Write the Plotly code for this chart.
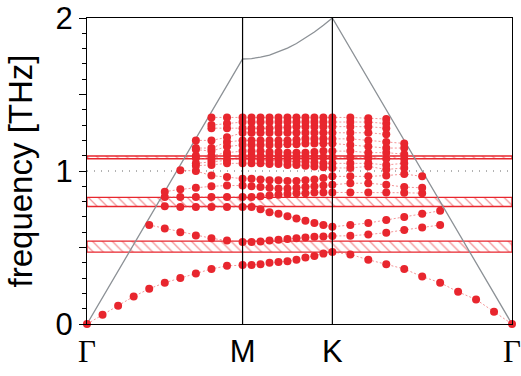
import plotly.graph_objects as go

# ------------------------------------------
# k-path (hexagonal: Γ - M - K - Γ), 10 steps per segment
# ------------------------------------------

K_DIST = [
    0.0, 0.0577, 0.1155, 0.1732, 0.2309, 0.2887, 0.3464, 0.4041, 0.4619, 0.5196, 0.5774,
    0.6107, 0.6440, 0.6774, 0.7107, 0.7440, 0.7774, 0.8107, 0.8440, 0.8774, 0.9107,
    0.9774, 1.0440, 1.1107, 1.1774, 1.2440, 1.3107, 1.3774, 1.4440, 1.5107, 1.5774,
]

TICK_POS = [0.0, 0.5774, 0.9107, 1.5774]
TICK_TXT = [
    '<span style="font-family:Liberation Serif">Γ</span>',
    "M",
    "K",
    '<span style="font-family:Liberation Serif">Γ</span>',
]

# light line
LIGHT_X = [0.0, 0.5774, 0.6107, 0.6440, 0.6774, 0.7107, 0.7440, 0.7774,
           0.8107, 0.8440, 0.8774, 0.9107, 1.5774]
LIGHT_Y = [0.0, 1.732, 1.735, 1.744, 1.758, 1.778, 1.803, 1.833,
           1.868, 1.908, 1.952, 2.0, 0.0]

# band gaps (hatched)
GAP_LO = [0.47, 0.768, 1.08]
GAP_HI = [0.542, 0.828, 1.098]

N = None

# ------------------------------------------
# Bands (Γ-M 11 pts | M-K 10 pts | K-Γ 10 pts), only below light line
# ------------------------------------------

B1 = [0, .06, .12, .18, .23, .27, .30, .33, .36, .38, .386,
      .386, .39, .40, .405, .41, .42, .435, .445, .46, .47,
      .455, .42, .39, .36, .31, .27, .21, .16, .08, 0]
B2 = [N, N, N, N, .647, .625, .60, .578, .56, .545, .536,
      .536, .54, .545, .55, .555, .56, .565, .57, .572, .575,
      .577, .585, .597, .615, .63, .647, N, N, N, N]
B3 = [N, N, N, N, N, .77, .765, .765, .765, .765, .765,
      .765, .75, .73, .72, .705, .69, .675, .66, .647, .635,
      .647, .66, .68, .70, .72, .74, N, N, N, N]
B4 = [N, N, N, N, N, .83, .83, .83, .83, .83, .83,
      .83, .835, .84, .845, .85, .855, .855, .86, .86, .86,
      .86, .86, .86, .858, .855, N, N, N, N, N]
B5 = [N, N, N, N, N, .865, .88, .89, .90, .905, .905,
      .90, .895, .89, .885, .885, .89, .895, .90, .905, .91,
      .92, .92, .91, .895, .89, N, N, N, N, N]
B6 = [N, N, N, N, N, N, 1.005, 1.0, .97, .96, .95,
      .95, .945, .94, .94, .935, .935, .94, .945, .955, .965,
      .965, .965, .97, .98, .965, N, N, N, N, N]
B7 = [N, N, N, N, N, N, N, 1.035, 1.04, 1.05, 1.05,
      1.05, 1.05, 1.045, 1.045, 1.04, 1.04, 1.035, 1.03, 1.025, 1.02,
      1.02, 1.03, 1.01, 1.02, N, N, N, N, N, N]
B8 = [N, N, N, N, N, N, N, 1.05, 1.06, 1.07, 1.08,
      1.08, 1.075, 1.07, 1.07, 1.065, 1.06, 1.06, 1.055, 1.05, 1.05,
      1.05, 1.05, 1.04, 1.05, N, N, N, N, N, N]
B9 = [N, N, N, N, N, N, N, 1.085, 1.08, 1.10, 1.10,
      1.10, 1.10, 1.10, 1.095, 1.095, 1.09, 1.09, 1.09, 1.09, 1.09,
      1.09, 1.085, 1.08, 1.08, N, N, N, N, N, N]
B10 = [N, N, N, N, N, N, N, 1.10, 1.10, 1.12, 1.13,
       1.13, 1.13, 1.125, 1.125, 1.12, 1.12, 1.12, 1.125, 1.13, 1.13,
       1.13, 1.12, 1.12, 1.11, N, N, N, N, N, N]
B11 = [N, N, N, N, N, N, N, 1.14, 1.13, 1.16, 1.17,
       1.17, 1.17, 1.17, 1.17, 1.175, 1.175, 1.18, 1.18, 1.18, 1.18,
       1.17, 1.16, 1.15, 1.15, N, N, N, N, N, N]
B12 = [N, N, N, N, N, N, N, 1.15, 1.15, 1.19, 1.20,
       1.20, 1.20, 1.20, 1.20, 1.20, 1.205, 1.21, 1.21, 1.21, 1.21,
       1.21, 1.20, 1.19, 1.18, N, N, N, N, N, N]
B13 = [N, N, N, N, N, N, N, 1.20, 1.20, 1.22, 1.25,
       1.25, 1.25, 1.25, 1.25, 1.25, 1.25, 1.25, 1.25, 1.25, 1.25,
       1.25, 1.25, 1.24, N, N, N, N, N, N, N]
B14 = [N, N, N, N, N, N, N, N, 1.28, 1.28, 1.28,
       1.28, 1.28, 1.28, 1.285, 1.285, 1.29, 1.29, 1.29, 1.29, 1.29,
       1.29, 1.29, 1.28, N, N, N, N, N, N, N]
B15 = [N, N, N, N, N, N, N, N, 1.30, 1.31, 1.32,
       1.32, 1.32, 1.32, 1.32, 1.32, 1.32, 1.32, 1.32, 1.32, 1.32,
       1.32, 1.32, 1.31, N, N, N, N, N, N, N]
B16 = [N, N, N, N, N, N, N, N, 1.35, 1.35, 1.35,
       1.35, 1.35, 1.35, 1.35, 1.35, 1.35, 1.35, 1.35, 1.35, 1.35,
       1.35, 1.345, 1.34, N, N, N, N, N, N, N]

BANDS = [B1, B2, B3, B4, B5, B6, B7, B8, B9, B10, B11, B12, B13, B14, B15, B16]

RED = "#e8262e"
FONT = "Liberation Sans, Arial, sans-serif"

fig = go.Figure()

# hatched gaps
x_end = K_DIST[-1]
for lo, hi in zip(GAP_LO, GAP_HI):
    fig.add_trace(
        go.Scatter(
            x=[0, x_end, x_end, 0, 0],
            y=[lo, lo, hi, hi, lo],
            mode="lines",
            fill="toself",
            fillcolor="rgba(0,0,0,0)",
            fillpattern=dict(shape="\\", fgcolor=RED,
                             bgcolor="rgba(0,0,0,0)", size=7, solidity=0.18),
            line=dict(color=RED, width=1.3),
            hoverinfo="skip",
            showlegend=False,
        )
    )

# light line
fig.add_trace(
    go.Scatter(
        x=LIGHT_X, y=LIGHT_Y, mode="lines",
        line=dict(color="#8c9196", width=1.3),
        showlegend=False,
    )
)

# bands
for band in BANDS:
    fig.add_trace(
        go.Scatter(
            x=K_DIST, y=band,
            mode="lines+markers",
            line=dict(color="rgba(236,90,95,0.65)", width=1, dash="2px,2px"),
            marker=dict(color=RED, size=8),
            cliponaxis=False,
            showlegend=False,
        )
    )

# symmetry lines and y=1 guide
for xv in TICK_POS[1:3]:
    fig.add_shape(type="line", x0=xv, x1=xv, y0=0, y1=2,
                  line=dict(color="black", width=1.2), layer="above")
fig.add_shape(type="line", x0=0, x1=x_end, y0=1, y1=1,
              line=dict(color="#666666", width=1, dash="1px,6px"), layer="below")

fig.update_layout(
    width=521,
    height=376,
    margin=dict(l=87, r=9, t=18, b=52),
    plot_bgcolor="white",
    paper_bgcolor="white",
    font=dict(family=FONT, size=31, color="black"),
    xaxis=dict(
        range=[0, x_end],
        tickvals=TICK_POS,
        ticktext=TICK_TXT,
        ticks="",
        showgrid=False,
        zeroline=False,
        showline=True,
        linecolor="black",
        linewidth=1.2,
        mirror=True,
        automargin=False,
        ticklabeloverflow="allow",
        tickfont=dict(size=31),
    ),
    yaxis=dict(
        range=[0, 2],
        tickvals=[0, 0.5, 1, 1.5, 2],
        ticktext=["0", "", "1", "", "2"],
        ticks="outside",
        ticklen=7,
        tickcolor="black",
        minor=dict(dtick=0.1, tick0=0, ticks="outside", ticklen=4, tickcolor="black"),
        showgrid=False,
        zeroline=False,
        showline=True,
        linecolor="black",
        linewidth=1.2,
        mirror=True,
        automargin=False,
        ticklabeloverflow="allow",
        tickfont=dict(size=31),
        title=dict(text="frequency [THz]", font=dict(size=33), standoff=12),
    ),
)

# drop the default page margin so the figure sits at the window corner
fig.write_html(
    "out.html",
    config={"displayModeBar": False},
    post_script="document.body.style.margin = '0';",
)
